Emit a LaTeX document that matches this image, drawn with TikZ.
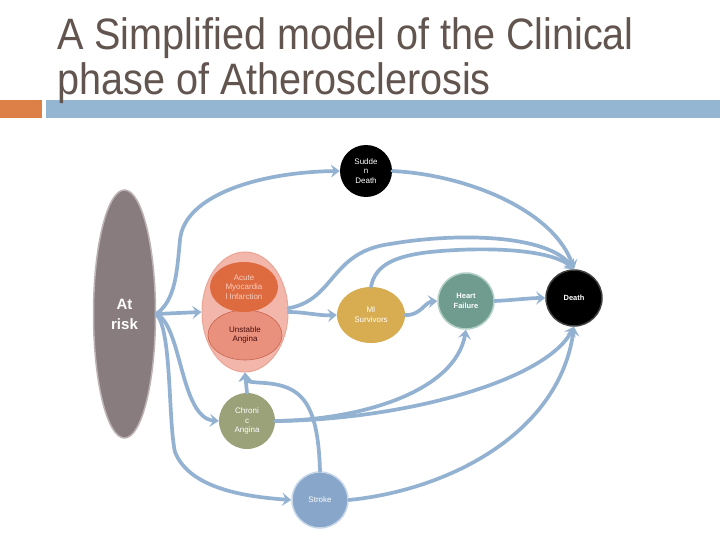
\documentclass[tikz,border=0pt]{standalone}
\usepackage{fontspec}
\setmainfont{Liberation Sans}
\usetikzlibrary{shapes.geometric,arrows.meta}
\definecolor{titlec}{HTML}{62554F}
\definecolor{orangebar}{HTML}{DD8047}
\definecolor{bluebar}{HTML}{94B6D2}
\definecolor{linkc}{HTML}{93B2D2}
\definecolor{riskc}{HTML}{887C7E}
\definecolor{riskrim}{HTML}{BDB2B4}
\definecolor{grpc}{HTML}{F3B6AB}
\definecolor{grprim}{HTML}{EBA597}
\definecolor{amic}{HTML}{DE6A3F}
\definecolor{amitext}{HTML}{F8CDBE}
\definecolor{uac}{HTML}{E9917C}
\definecolor{uarim}{HTML}{C8654F}
\definecolor{uatext}{HTML}{4A0A0A}
\definecolor{misc}{HTML}{D8AD52}
\definecolor{hfc}{HTML}{6F9C8E}
\definecolor{hfrim}{HTML}{B2D0C6}
\definecolor{cac}{HTML}{9BA27A}
\definecolor{strokec}{HTML}{88A6C9}
\definecolor{strokerim}{HTML}{C8D8EA}
\begin{document}
\begin{tikzpicture}[x=1pt,y=-1pt,
  conn/.style={draw=linkc, line width=3.7pt, line cap=round, -{Stealth[length=9pt,width=13pt,inset=3.5pt]}},
  plainlink/.style={draw=linkc, line width=3.7pt, line cap=round},
  circ/.style={circle, minimum size=56pt, inner sep=0pt, align=center, text=white, font=\fontsize{8}{9.5}\selectfont},
  ell/.style={ellipse, inner sep=0pt, align=center, font=\fontsize{8}{9.5}\selectfont},
  titletext/.style={anchor=base west, inner sep=0pt, text=titlec, font=\fontsize{40}{45}\selectfont}]
\useasboundingbox (0,0) rectangle (720,540);
\fill[white] (0,0) rectangle (720,540);
% bars and title
\fill[orangebar] (0,100) rectangle (42,118);
\fill[bluebar] (46,100) rectangle (720,118);
\node[titletext] (t1) at (57,50) {\scalebox{0.99}[1.1]{A Simplified model of the Clinical}};
\node[titletext] (t2) at (57,95) {\scalebox{0.99}[1.1]{phase of Atherosclerosis}};
% nodes
\node[ell, fill=riskc, draw=riskrim, line width=1.5pt, minimum width=62pt, minimum height=248pt, text=white, font=\bfseries\fontsize{15}{20}\selectfont] (risk) at (124.5,314) {At\\risk};
\node[ell, fill=grpc, draw=grprim, line width=1pt, minimum width=86pt, minimum height=120pt] (grp) at (245,312) {};
\node[ell, fill=uac, draw=uarim, line width=0.6pt, minimum width=74pt, minimum height=50pt, text=uatext] (ua) at (245,335) {Unstable\\Angina};
\node[ell, fill=amic, minimum width=68pt, minimum height=50pt, text=amitext] (ami) at (244,287) {Acute\\Myocardia\\l Infarction};
\node[circ, fill=black, minimum size=52pt] (sd) at (366,171) {Sudde\\n\\Death};
\node[ell, fill=misc, minimum width=68pt, minimum height=56pt, text=white] (mis) at (371,315) {MI\\Survivors};
\node[circ, fill=hfc, draw=hfrim, line width=1.5pt, font=\bfseries\fontsize{7.5}{9.5}\selectfont] (hf) at (466,301) {Heart\\Failure};
\node[circ, fill=black, draw=black!75, line width=1.5pt, font=\bfseries\fontsize{7.5}{9.5}\selectfont] (death) at (574,298) {Death};
\node[circ, fill=cac] (ca) at (247,421) {Chroni\\c\\Angina};
\node[circ, fill=strokec, draw=strokerim, line width=1.5pt] (stroke) at (320,500) {Stroke};
% connectors
\draw[conn] (risk.east) .. controls (176,300) and (177,270) .. (180,240) .. controls (184,195) and (260,172) .. (sd.west);
\draw[conn] (sd.east) .. controls (470,175) and (555,212) .. (death.north);
\draw[conn] (risk.east) -- (grp.west);
\draw[conn] (risk.east) .. controls (182,325) and (180,418) .. (ca.west);
\draw[plainlink] (risk.east) .. controls (172,330) and (168,420) .. (175,452);
\draw[conn] (175,452) .. controls (190,490) and (250,497) .. (stroke.west);
\draw[conn] (grp.5) .. controls (335,300) and (330,252) .. (390,244) .. controls (460,232) and (548,235) .. (death.north);
\draw[conn] (mis.north) .. controls (375,265) and (395,256) .. (430,252) .. controls (490,246) and (552,250) .. (death.north);
\draw[conn] (grp.east) .. controls (305,312) and (320,316) .. (mis.west);
\draw[conn] (mis.east) .. controls (420,316) and (425,302) .. (hf.west);
\draw[conn] (hf.east) .. controls (515,300) and (530,298) .. (death.west);
\draw[conn] (ca.north) -- (grp.south);
\draw[conn] (ca.east) .. controls (360,420) and (455,392) .. (hf.south);
\draw[conn] (ca.east) .. controls (400,420) and (545,382) .. (death.south);
\draw[conn] (stroke.north) .. controls (318,400) and (300,386) .. (265,383) .. controls (250,382) and (245,382) .. (grp.south);
\draw[conn] (stroke.east) .. controls (450,490) and (560,432) .. (death.south);
\end{tikzpicture}
\end{document}
